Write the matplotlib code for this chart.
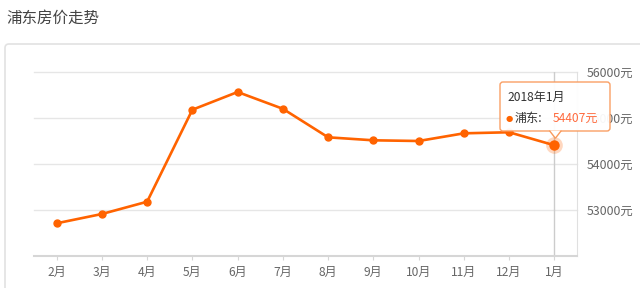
import matplotlib
matplotlib.use("Agg")
import matplotlib.pyplot as plt
from matplotlib.patches import FancyBboxPatch, Polygon
from matplotlib.transforms import IdentityTransform

plt.rcParams['font.family'] = ['Noto Sans CJK SC', 'DejaVu Sans']

# 數據
months = ['2月', '3月', '4月', '5月', '6月', '7月', '8月', '9月', '10月', '11月', '12月', '1月']
prices = [52711, 52913, 53180, 55180, 55565, 55200, 54580, 54515, 54500, 54667, 54690, 54407]
yticks = [53000, 54000, 55000, 56000]
title = '浦东房价走势'
series_name = '浦东'
tip_title = '2018年1月'

orange = '#ff6300'
W, H = 640, 288

fig = plt.figure(figsize=(W / 100, H / 100), dpi=100)
ax = fig.add_axes([34 / W, 1 - 256 / H, (577 - 34) / W, (256 - 72) / H])

x = list(range(len(months)))
ax.set_xlim(-0.5, len(months) - 0.5)
ax.set_ylim(52000, 56000)

# 網格
for v in yticks:
    ax.axhline(v, color='#e6e6e6', lw=1.0, zorder=0, clip_on=False)

# 游標線
ax.axvline(x[-1], color='#cccccc', lw=1.0, zorder=1)

ax.plot(x, prices, color=orange, lw=1.9, marker='o', ms=5, zorder=3)
# 高亮點
ax.plot(x[-1], prices[-1], 'o', color=orange, ms=12, alpha=0.25, mec='none', zorder=4)
ax.plot(x[-1], prices[-1], 'o', color=orange, ms=7.5, mec='none', zorder=5)

for s in ['top', 'left']:
    ax.spines[s].set_visible(False)
ax.spines['right'].set_color('#e0e0e0')
ax.spines['bottom'].set_color('#d6d6d6')
ax.spines['bottom'].set_linewidth(1.5)

ax.set_xticks(x)
ax.set_xticklabels(months)
ax.tick_params(axis='x', length=3, color='#d6d6d6', labelsize=8.7, labelcolor='#666666', pad=4)
ax.yaxis.tick_right()
ax.set_yticks(yticks)
ax.set_yticklabels([f'{v}元' for v in yticks])
ax.tick_params(axis='y', length=0, labelsize=8.9, labelcolor='#666666', pad=7)

# 標題與卡片邊框
fig.text(6 / W, 1 - 18 / H, title, fontsize=11.2, color='#444444', va='center', ha='left')
card = FancyBboxPatch((5, -20), 660, 288 - 44 + 20, boxstyle='round,pad=0,rounding_size=4',
                      transform=IdentityTransform(), fc='none', ec='#e2e2e2', lw=1.2)
fig.patches.append(card)

# 提示框
px, py = ax.transData.transform((x[-1], prices[-1]))
left, right, top, bottom = 500, 610, H - 82, H - 131
tip = (px + 1, py + 7)
box = FancyBboxPatch((left, bottom), right - left, top - bottom,
                     boxstyle='round,pad=0,rounding_size=3', transform=IdentityTransform(),
                     fc='white', ec='#f99a5c', lw=1.0, alpha=0.95, zorder=6)
fig.patches.append(box)
arrow = Polygon([(tip[0] - 6, bottom + 0.5), (tip[0], tip[1]), (tip[0] + 6, bottom + 0.5)],
                closed=False, transform=IdentityTransform(), fc='white', ec='#f99a5c', lw=1.0, zorder=7)
fig.patches.append(arrow)
fig.text(507 / W, 1 - 97 / H, tip_title, fontsize=8.7, color='#333333', va='center', ha='left', zorder=8)
fig.text(509 / W, 1 - 118 / H, '●', fontsize=6, color=orange, va='center', ha='center',
         family=['DejaVu Sans'], zorder=8)
fig.text(515 / W, 1 - 118 / H, series_name + ':', fontsize=8.7, color='#333333', va='center', ha='left', zorder=8)
fig.text(553 / W, 1 - 118 / H, f'{prices[-1]}元', fontsize=8.7, color='#ff6a3d', va='center', ha='left', zorder=8)

fig.savefig('out.png', dpi=100)
